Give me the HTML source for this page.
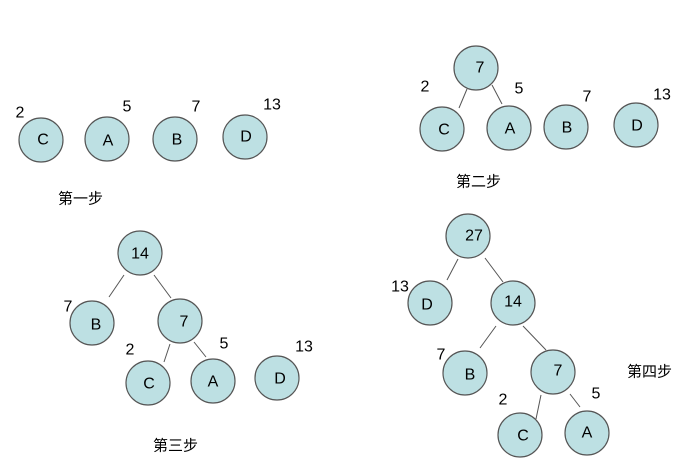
<!DOCTYPE html>
<html><head><meta charset="utf-8"><style>body{margin:0;background:#fff}svg{display:block}</style></head><body>
<svg width="687" height="468" xmlns="http://www.w3.org/2000/svg" font-family="Liberation Sans, sans-serif" font-size="16">
<g fill="#bde0e3" stroke="#555" stroke-width="1.2">
<circle cx="41" cy="140" r="22"/><circle cx="107" cy="139" r="22"/><circle cx="175" cy="139" r="22"/><circle cx="245" cy="137" r="22"/>
<circle cx="476" cy="68" r="22"/><circle cx="442" cy="129" r="22"/><circle cx="509" cy="128" r="22"/><circle cx="566" cy="127" r="22"/><circle cx="636" cy="125" r="22"/>
<circle cx="140" cy="253" r="22"/><circle cx="92" cy="323" r="22"/><circle cx="180" cy="321" r="22"/><circle cx="148" cy="383" r="22"/><circle cx="213" cy="381" r="22"/><circle cx="277" cy="378" r="22"/>
<circle cx="468" cy="236" r="22"/><circle cx="430" cy="303" r="22"/><circle cx="513" cy="303" r="22"/><circle cx="465" cy="373" r="22"/><circle cx="553" cy="372" r="22"/><circle cx="520" cy="435" r="22"/><circle cx="587" cy="433" r="22"/>
</g>
<g stroke="#555" stroke-width="1">
<line x1="467" y1="89" x2="459" y2="108"/><line x1="492" y1="85" x2="502" y2="104"/>
<line x1="124" y1="275" x2="109" y2="297"/><line x1="154" y1="275" x2="171" y2="298"/><line x1="170" y1="344" x2="164" y2="362"/><line x1="194" y1="342" x2="206" y2="357"/>
<line x1="458" y1="259" x2="447" y2="280"/><line x1="485" y1="258" x2="503" y2="282"/><line x1="496" y1="326" x2="480" y2="348"/><line x1="523" y1="326" x2="546" y2="350"/><line x1="541" y1="395" x2="536" y2="419"/><line x1="570" y1="394" x2="580" y2="407"/>
</g>
<g text-anchor="middle" dominant-baseline="central">
<text x="43" y="140">C</text><text x="108" y="141">A</text><text x="177" y="140">B</text><text x="246" y="137">D</text>
<text x="480" y="68">7</text><text x="444" y="130">C</text><text x="510" y="129">A</text><text x="567" y="128">B</text><text x="637" y="126">D</text>
<text x="140" y="254">14</text><text x="96" y="325">B</text><text x="184" y="322">7</text><text x="149" y="384">C</text><text x="213" y="382">A</text><text x="280" y="379">D</text>
<text x="474" y="236">27</text><text x="427" y="305">D</text><text x="513" y="302">14</text><text x="470" y="375">B</text><text x="558" y="371">7</text><text x="523" y="436">C</text><text x="587" y="433">A</text>
<text x="20" y="113">2</text><text x="127" y="107">5</text><text x="196" y="107">7</text><text x="272" y="105">13</text>
<text x="425" y="87">2</text><text x="519" y="89">5</text><text x="587" y="97">7</text><text x="662" y="95">13</text>
<text x="68" y="307">7</text><text x="130" y="350">2</text><text x="224" y="344">5</text><text x="304" y="347">13</text>
<text x="400" y="287">13</text><text x="441" y="355">7</text><text x="503" y="400">2</text><text x="596" y="394">5</text>
</g>
<g font-family="Liberation Sans, Noto Sans CJK SC, sans-serif" font-size="15" dominant-baseline="central">
<text x="58" y="199">第一步</text><text x="456" y="182">第二步</text><text x="153" y="446">第三步</text><text x="627" y="372">第四步</text>
</g>
</svg>
</body></html>
